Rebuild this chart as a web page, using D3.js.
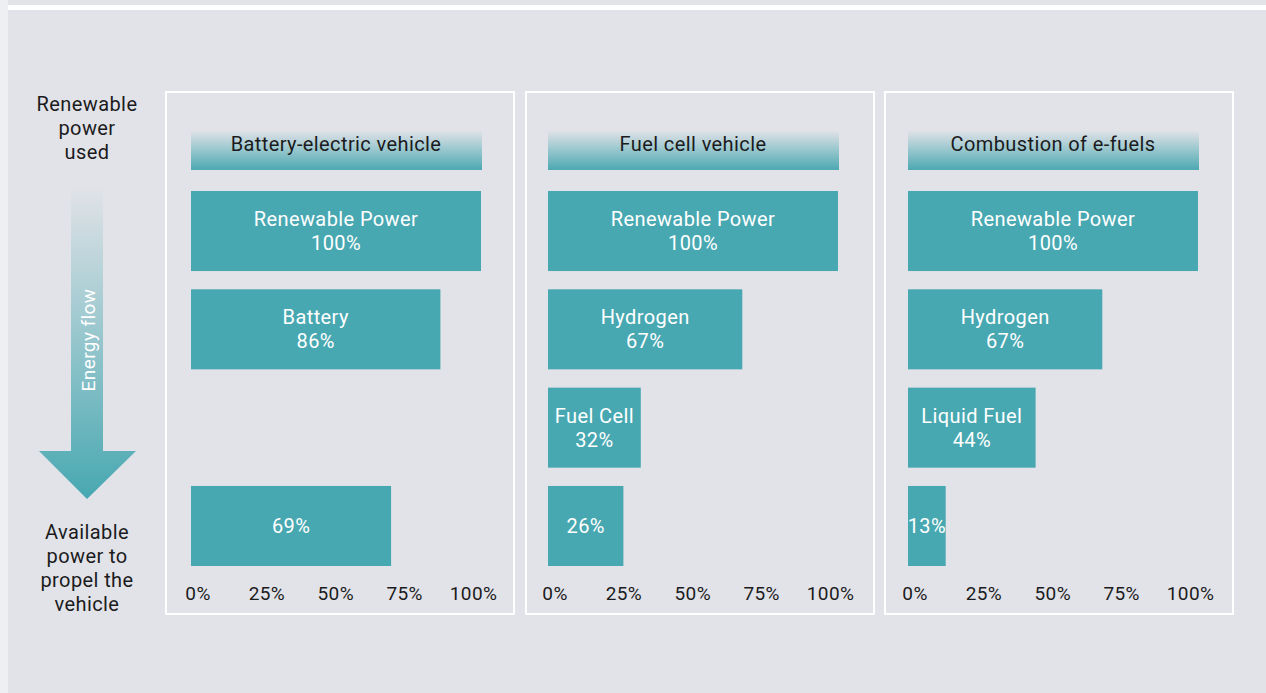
<!DOCTYPE html>
<html>
<head>
<meta charset="utf-8">
<script src="https://cdn.jsdelivr.net/npm/d3@7"></script>
<style>
  html, body { margin: 0; padding: 0; background: #e2e3e8; }
  svg { display: block; font-family: Roboto, "Open Sans", sans-serif; }
  text { letter-spacing: 0.4px; }
</style>
</head>
<body>
<svg width="1266" height="693"></svg>
<script>
// Chart data
let panelTitles = ["Battery-electric vehicle", "Fuel cell vehicle", "Combustion of e-fuels"];
let stages = [0, 1, 2, 3];
let bevValues = [100, 86, null, 69];
let bevLabels = ["Renewable Power", "Battery", "", ""];
let fcvValues = [100, 67, 32, 26];
let fcvLabels = ["Renewable Power", "Hydrogen", "Fuel Cell", ""];
let efuelValues = [100, 67, 44, 13];
let efuelLabels = ["Renewable Power", "Hydrogen", "Liquid Fuel", ""];
let tickValues = [0, 25, 50, 75, 100];
let topText = ["Renewable", "power", "used"];
let bottomText = ["Available", "power to", "propel the", "vehicle"];

let teal = "#48a8b1",
    bg = "#e2e3e8",
    ink = "#1b1b1d";

// where each panel's 0% sits, and its frame offset
let panelOrigin = [191, 548, 908],
    frameOffset = [-26, -23, -24];

let svg = d3.select("svg");

// background pieces
svg.append("rect").attr("x", 0).attr("y", 0).attr("width", 8).attr("height", 693).attr("fill", "#eeeff2");
svg.append("rect").attr("x", 8).attr("y", 5).attr("width", 1258).attr("height", 5).attr("fill", "#ffffff");

let defs = svg.append("defs");
let hg = defs.append("linearGradient").attr("id", "headGrad")
    .attr("x1", 0).attr("y1", 0).attr("x2", 0).attr("y2", 1);
hg.append("stop").attr("offset", "0%").attr("stop-color", bg);
hg.append("stop").attr("offset", "30%").attr("stop-color", bg);
hg.append("stop").attr("offset", "100%").attr("stop-color", "#4da9b2");

let ag = defs.append("linearGradient").attr("id", "arrowGrad")
    .attr("gradientUnits", "userSpaceOnUse")
    .attr("x1", 0).attr("y1", 185).attr("x2", 0).attr("y2", 498);
ag.append("stop").attr("offset", "0%").attr("stop-color", bg);
ag.append("stop").attr("offset", "100%").attr("stop-color", "#48a8b1");

// data grouped per panel
let panels = panelTitles.map(function (t, i) {
    let vals = [bevValues, fcvValues, efuelValues][i];
    let labs = [bevLabels, fcvLabels, efuelLabels][i];
    return {
        title: t,
        bars: stages.map(function (s) {
            return { stage: s, value: vals[s], label: labs[s] };
        }).filter(function (d) { return d.value !== null; })
    };
});

// scales (local to a panel)
let x = d3.scaleLinear().domain([0, 100]).range([0, 290]);
let xTick = d3.scaleLinear().domain([0, 100]).range([6.5, 282]);
let y = d3.scaleBand().domain(stages).range([191, 566]).paddingInner(0.186);

let panelG = svg.selectAll("g.panel")
    .data(panels)
    .enter().append("g")
    .attr("class", "panel")
    .attr("transform", function (d, i) { return "translate(" + panelOrigin[i] + ",0)"; });

panelG.append("rect")
    .attr("x", function (d, i) { return frameOffset[i] + 1; })
    .attr("y", 92)
    .attr("width", 348).attr("height", 522)
    .attr("fill", "none")
    .attr("stroke", "#ffffff")
    .attr("stroke-width", 2);

panelG.append("rect")
    .attr("x", x(0)).attr("y", 113)
    .attr("width", x(100) - x(0) + 1).attr("height", 57)
    .attr("fill", "url(#headGrad)");

panelG.append("text")
    .attr("x", (x(0) + x(100)) / 2)
    .attr("y", 144)
    .attr("dy", "0.35em")
    .attr("text-anchor", "middle")
    .attr("font-size", 20)
    .attr("fill", ink)
    .text(function (d) { return d.title; });

let bar = panelG.selectAll("g.bar")
    .data(function (d) { return d.bars; })
    .enter().append("g")
    .attr("class", "bar");

bar.append("rect")
    .attr("x", x(0))
    .attr("y", function (d) { return y(d.stage); })
    .attr("width", function (d) { return x(d.value) - x(0); })
    .attr("height", y.bandwidth())
    .attr("fill", teal);

bar.append("text")
    .attr("x", function (d) { return (x(0) + x(d.value)) / 2; })
    .attr("y", function (d) { return y(d.stage) + y.bandwidth() / 2; })
    .attr("text-anchor", "middle")
    .attr("font-size", 20)
    .attr("fill", "#ffffff")
    .each(function (d) {
        let t = d3.select(this);
        let lines = d.label ? [d.label, d.value + "%"] : [d.value + "%"];
        lines.forEach(function (l, i) {
            t.append("tspan")
                .attr("x", (x(0) + x(d.value)) / 2)
                .attr("dy", i === 0 ? (lines.length === 1 ? "0.35em" : "-0.25em") : "1.2em")
                .text(l);
        });
    });

// tick labels as a bottom axis without lines
let axis = panelG.append("g")
    .attr("transform", "translate(0,593)")
    .call(d3.axisBottom(xTick).tickValues(tickValues).tickSize(0).tickFormat(function (d) { return d + "%"; }));
axis.select(".domain").remove();
axis.selectAll("text")
    .attr("y", 0)
    .attr("dy", "0.35em")
    .attr("font-size", 19)
    .attr("letter-spacing", "1px")
    .attr("font-family", "Roboto, 'Open Sans', sans-serif")
    .attr("fill", ink);

// left side: arrow and captions
let arrow = d3.path();
arrow.moveTo(71, 185);
arrow.lineTo(103, 185);
arrow.lineTo(103, 451);
arrow.lineTo(136, 451);
arrow.lineTo(87, 499);
arrow.lineTo(39, 451);
arrow.lineTo(71, 451);
arrow.closePath();
svg.append("path").attr("d", arrow.toString()).attr("fill", "url(#arrowGrad)");

svg.append("text")
    .attr("transform", "translate(88,340) rotate(-90)")
    .attr("text-anchor", "middle")
    .attr("dy", "0.35em")
    .attr("font-size", 19)
    .attr("fill", "#ffffff")
    .text("Energy flow");

svg.append("g").selectAll("text")
    .data(topText)
    .enter().append("text")
    .attr("x", 87)
    .attr("y", function (d, i) { return 104 + i * 24; })
    .attr("dy", "0.35em")
    .attr("text-anchor", "middle")
    .attr("font-size", 20)
    .attr("fill", ink)
    .text(function (d) { return d; });

svg.append("g").selectAll("text")
    .data(bottomText)
    .enter().append("text")
    .attr("x", 87)
    .attr("y", function (d, i) { return 532 + i * 24; })
    .attr("dy", "0.35em")
    .attr("text-anchor", "middle")
    .attr("font-size", 20)
    .attr("fill", ink)
    .text(function (d) { return d; });
</script>
</body>
</html>
